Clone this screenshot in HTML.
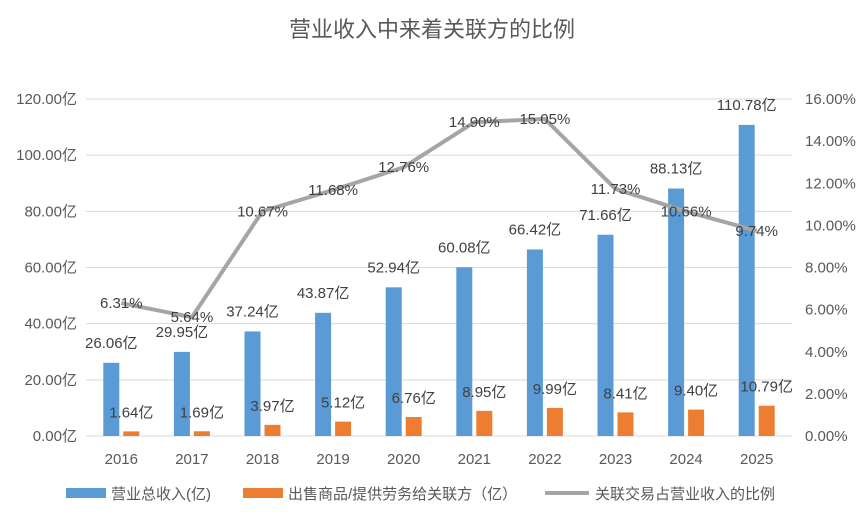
<!DOCTYPE html>
<html><head><meta charset="utf-8"><style>
body{margin:0;background:#fff;}
svg text{font-family:"Liberation Sans","Noto Sans CJK SC",sans-serif;}
</style></head><body>
<svg id="c" width="865" height="512" xmlns="http://www.w3.org/2000/svg">
<rect width="865" height="512" fill="#fff"/>
<text x="432" y="37" text-anchor="middle" font-size="22" fill="#595959">营业收入中来着关联方的比例</text>
<g id="g"></g>
</svg>
<script>
const years=["2016","2017","2018","2019","2020","2021","2022","2023","2024","2025"];
const revenue=[26.06,29.95,37.24,43.87,52.94,60.08,66.42,71.66,88.13,110.78];
const related=[1.64,1.69,3.97,5.12,6.76,8.95,9.99,8.41,9.40,10.79];
const ratio=[6.31,5.64,10.67,11.68,12.76,14.90,15.05,11.73,10.66,9.74];
const leftTicks=[0,20,40,60,80,100,120];
const rightTicks=[0,2,4,6,8,10,12,14,16];
const X0=86,X1=792,Y0=436,Y1=99;
const band=(X1-X0)/years.length;
const cx=i=>X0+band*(i+0.5);
const yL=v=>Y0-(v/120)*(Y0-Y1);
const yR=v=>Y0-(v/16)*(Y0-Y1);
const g=document.getElementById('g');
const NS='http://www.w3.org/2000/svg';
function mk(t,a,txt){const e=document.createElementNS(NS,t);for(const k in a)e.setAttribute(k,a[k]);if(txt!=null)e.textContent=txt;g.appendChild(e);return e;}
leftTicks.forEach(v=>{
 const l=mk('line',{x1:X0,x2:X1,y1:yL(v),y2:yL(v),stroke:'#d9d9d9','stroke-width':1});
 
 
 const t=mk('text',{x:77,y:yL(v)+5,'text-anchor':'end','font-size':15,fill:'#595959'},v.toFixed(2)+'亿');
 
 
});
rightTicks.forEach(v=>{
 const t=mk('text',{x:805,y:yR(v)+5,'font-size':15,fill:'#595959'},v.toFixed(2)+'%');
 
 
});
years.forEach((y,i)=>{
 const c=cx(i);
 const b=mk('rect',{x:c-18,y:yL(revenue[i]),width:16,height:Y0-yL(revenue[i]),fill:'#5b9bd5'});
 
 
 const o=mk('rect',{x:c+2,y:yL(related[i]),width:16,height:Y0-yL(related[i]),fill:'#ed7d31'});
 
 
 const xl=mk('text',{x:c,y:464,'text-anchor':'middle','font-size':15,fill:'#595959'},y);
 
 
});
const pts=ratio.map((v,i)=>cx(i)+','+yR(v)).join(' ');
const pl=mk('polyline',{points:pts,fill:'none',stroke:'#a5a5a5','stroke-width':4,'stroke-linejoin':'round'});


years.forEach((y,i)=>{
 const c=cx(i);
 const a=mk('text',{x:c-10,y:yL(revenue[i])-15,'text-anchor':'middle','font-size':15,fill:'#404040'},revenue[i].toFixed(2)+'亿');
 
 
 const b=mk('text',{x:c+10,y:yL(related[i])-14,'text-anchor':'middle','font-size':15,fill:'#404040'},related[i].toFixed(2)+'亿');
 
 
 const r=mk('text',{x:c,y:yR(ratio[i])+5,'text-anchor':'middle','font-size':15,fill:'#404040'},ratio[i].toFixed(2)+'%');
 
 
});
const lg=[['rect',66,'营业总收入(亿)','#5b9bd5','legend-revenue'],['rect',243,'出售商品/提供劳务给关联方（亿）','#ed7d31','legend-related'],['line',545,'关联交易占营业收入的比例','#a5a5a5','legend-ratio']];
lg.forEach(([k,x,t,col,n])=>{
 let s;
 if(k==='rect') s=mk('rect',{x:x,y:488,width:40,height:10,fill:col});
 else s=mk('line',{x1:x,x2:x+44,y1:493,y2:493,stroke:col,'stroke-width':4});
 
 
 const tx=mk('text',{x:x+(k==='rect'?45:50),y:499,'font-size':15,fill:'#595959'},t);
 
 
});
</script>
</body></html>
